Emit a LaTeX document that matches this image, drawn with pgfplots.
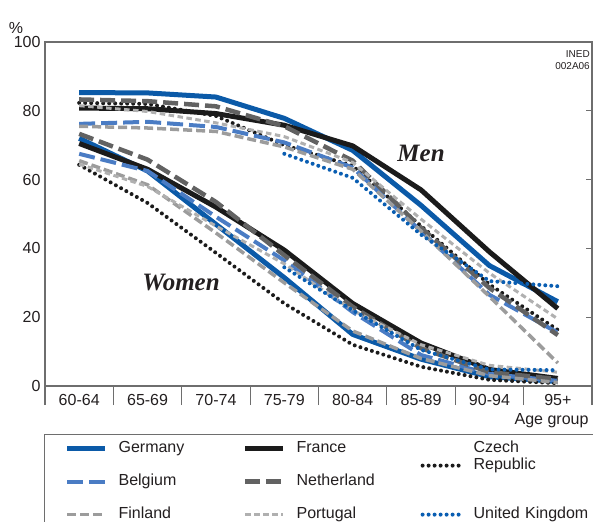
\documentclass[border=0pt]{standalone}
\usepackage{fontspec}
\setmainfont{Liberation Sans}
\newfontfamily\labfont{Liberation Serif}
\usepackage{pgfplots}
\pgfplotsset{compat=1.18}
\definecolor{deblue}{HTML}{0B5AA8}
\definecolor{beblue}{HTML}{4A7CC4}
\definecolor{ukblue}{HTML}{0A5EB2}
\definecolor{frblack}{HTML}{1B1B1B}
\definecolor{nlgray}{HTML}{626262}
\definecolor{figray}{HTML}{9C9C9C}
\definecolor{ptgray}{HTML}{B0B0B0}
\definecolor{axgray}{HTML}{6E6E6E}
\definecolor{textc}{HTML}{231F20}
\tikzset{
 ger/.style={draw=deblue, line width=5pt, line join=round},
 fra/.style={draw=frblack, line width=5pt, line join=round},
 cze/.style={draw=frblack, line width=4pt, line cap=round, dash pattern=on 0pt off 6pt},
 bel/.style={draw=beblue, line width=4pt, dash pattern=on 16pt off 6pt},
 ned/.style={draw=nlgray, line width=4.5pt, dash pattern=on 15pt off 6pt},
 fin/.style={draw=figray, line width=3.5pt, dash pattern=on 9pt off 4pt},
 por/.style={draw=ptgray, line width=3pt, dash pattern=on 5.5pt off 3.5pt},
 uk/.style={draw=ukblue, line width=4pt, line cap=round, dash pattern=on 0pt off 6pt},
}
\pgfplotsset{
 mylegimg/.style={legend image code/.code={\draw[##1] (0pt,0pt) -- (38pt,0pt);}},
 czechleg/.style={legend image code/.code={\draw[cze, overlay] (0pt,-17pt) -- (38pt,-17pt); \path[draw=none] (0pt,0pt) -- (38pt,0pt);}},
}
\begin{document}
\begin{tikzpicture}
\useasboundingbox (0pt,0pt) rectangle (593pt,-521pt);
\begin{axis}[
  at={(45pt,-386pt)}, anchor=south west,
  width=547pt, height=344pt, scale only axis,
  xmin=-0.5, xmax=7.5, ymin=0, ymax=100,
  axis line style={draw=axgray, line width=1.1pt},
  tick pos=left,
  xtick={-0.5,0.5,...,7.5},
  xticklabels={60-64,65-69,70-74,75-79,80-84,85-89,90-94,95+,{}},
  x tick label style={xshift=34.2pt, yshift=14pt},
  y tick label style={xshift=18pt},
  tick align=outside, major tick length=19pt,
  xtick style={draw=axgray, line width=1.1pt},
  ytick={0,20,...,100},
  ytick style={draw=none},
  tick label style={font=\fontsize{16}{18}\selectfont, text=textc},
  /pgf/number format/assume math mode=true,
  no markers,
  mylegimg,
  legend columns=3,
  legend cell align=left,
  legend style={at={(axis description cs:0,0)}, anchor=north west,
    xshift=-1pt, yshift=-48pt, draw=axgray, line width=1.2pt, fill=white,
    inner xsep=20pt, inner ysep=6pt, row sep=17pt, column sep=11pt,
    /tikz/every even column/.append style={column sep=0pt},
    nodes={inner sep=0pt, text width=124pt, text height=12pt, text depth=4pt,
      font=\fontsize{16}{18}\selectfont, text=textc}},
]
% Women
\addplot[ger, forget plot] coordinates {(0,72.0) (1,62.5) (2,47.0) (3,31.5) (4,15.0) (5,7.8) (6,2.7) (7,1.3)};
\addplot[fra, forget plot] coordinates {(0,70.5) (1,63.0) (2,52.0) (3,39.5) (4,24.0) (5,12.5) (6,4.8) (7,2.2)};
\addplot[cze, forget plot] coordinates {(0,64.3) (1,53.2) (2,38.7) (3,24.0) (4,12.0) (5,5.6) (6,1.8) (7,0.8)};
\addplot[bel, forget plot] coordinates {(0,67.5) (1,62.5) (2,49.2) (3,36.5) (4,21.5) (5,9.0) (6,3.5) (7,1.5)};
\addplot[ned, forget plot] coordinates {(0,73.3) (1,65.8) (2,53.5) (3,38.0) (4,23.0) (5,11.0) (6,4.0) (7,2.0)};
\addplot[fin, forget plot] coordinates {(0,65.5) (1,58.5) (2,44.5) (3,30.0) (4,16.0) (5,8.0) (6,3.0) (7,1.0)};
\addplot[por, forget plot] coordinates {(0,64.5) (1,58.0) (2,46.5) (3,35.5) (4,22.0) (5,12.0) (6,6.0) (7,4.0)};
\addplot[uk, forget plot] coordinates {(3,34.5) (4,22.0) (5,10.5) (6,4.8) (7,4.6)};
% Men
\addplot[ger] coordinates {(0,85.3) (1,85.2) (2,84.0) (3,77.8) (4,68.5) (5,52.5) (6,35.0) (7,24.5)};
\addlegendentry{Germany}
\addplot[fra] coordinates {(0,80.8) (1,80.6) (2,79.2) (3,75.8) (4,69.8) (5,57.0) (6,39.0) (7,22.5)};
\addlegendentry{France}
\addplot[cze, forget plot] coordinates {(0,82.3) (1,82.0) (2,78.5) (3,70.0) (4,64.0) (5,46.5) (6,29.5) (7,16.3)};
\addlegendimage{czechleg}
\addlegendentry{\rlap{\smash{\raisebox{-17pt}{Republic}}}Czech}
\addplot[bel] coordinates {(0,76.2) (1,76.8) (2,75.3) (3,70.8) (4,63.5) (5,45.0) (6,26.5) (7,15.5)};
\addlegendentry{Belgium}
\addplot[ned] coordinates {(0,83.3) (1,82.8) (2,81.3) (3,75.5) (4,65.5) (5,46.0) (6,28.5) (7,14.8)};
\addlegendentry{Netherland}
\addlegendimage{empty legend}
\addlegendentry{}
\addplot[fin] coordinates {(0,75.5) (1,75.0) (2,74.0) (3,69.5) (4,63.0) (5,45.0) (6,26.0) (7,6.7)};
\addlegendentry{Finland}
\addplot[por] coordinates {(0,81.5) (1,79.8) (2,76.5) (3,72.5) (4,65.0) (5,48.5) (6,32.8) (7,19.5)};
\addlegendentry{Portugal}
\addplot[uk] coordinates {(3,67.5) (4,60.5) (5,44.0) (6,30.5) (7,29.0)};
\addlegendentry{United Kingdom}
\node[font=\labfont\bfseries\itshape\fontsize{25}{28}\selectfont, text=textc] at (axis cs:5.0,67.7) {Men};
\node[font=\labfont\bfseries\itshape\fontsize{25}{28}\selectfont, text=textc] at (axis cs:1.49,30.2) {Women};
\end{axis}
\begin{axis}[
  at={(45pt,-386pt)}, anchor=south west,
  width=547pt, height=344pt, scale only axis,
  xmin=-0.5, xmax=7.5, ymin=0, ymax=100,
  axis x line=none, axis y line*=right,
  y axis line style={draw=axgray, line width=1.1pt},
  ytick={20,40,60,80}, yticklabels={},
  tick align=inside, major tick length=6pt,
  ytick style={draw=axgray, line width=1.1pt},
]
\end{axis}
\node[font=\fontsize{16}{18}\selectfont, text=textc] at (16pt,-28pt) {\%};
\node[anchor=east, font=\fontsize{16}{18}\selectfont, text=textc] at (592pt,-421pt) {Age group};
\node[anchor=north east, align=right, inner sep=0pt, font=\fontsize{10}{12}\selectfont, text=textc] at (590pt,-50pt) {INED\\002A06};
\end{tikzpicture}
\end{document}
